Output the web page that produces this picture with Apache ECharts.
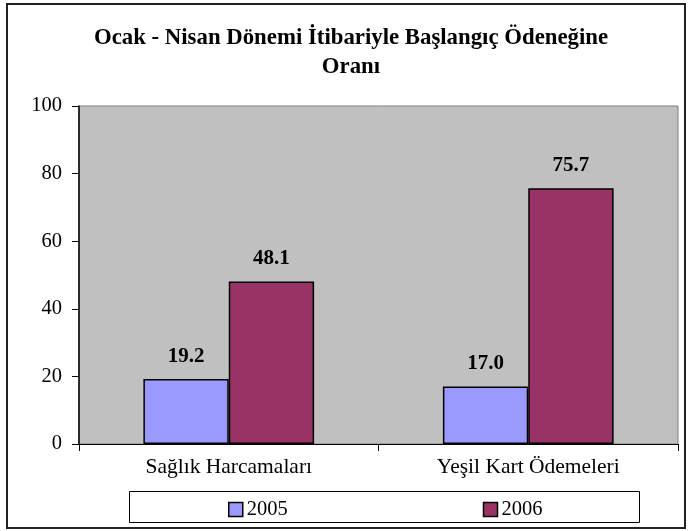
<!DOCTYPE html>
<html>
<head>
<meta charset="utf-8">
<script src="https://cdn.jsdelivr.net/npm/echarts@6/dist/echarts.min.js"></script>
<style>html,body{margin:0;padding:0;background:#fff}#c{width:689px;height:531px}</style>
</head>
<body>
<div id="c"></div>
<script>
const titleText = 'Ocak - Nisan Dönemi İtibariyle Başlangıç Ödeneğine\nOranı';
const categories = ['Sağlık Harcamaları', 'Yeşil Kart Ödemeleri'];
const seriesNames = ['2005', '2006'];
const values2005 = [19.2, 17.0];
const values2006 = [48.1, 75.7];
const yTicks = [0, 20, 40, 60, 80, 100];

const FONT = '"Liberation Serif", "Times New Roman", serif';
const chart = echarts.init(document.getElementById('c'));
const labelCfg = {
  show: true, position: 'top', distance: 12,
  fontFamily: FONT, fontSize: 21, fontWeight: 'bold', color: '#000',
  formatter: p => p.value.toFixed(1)
};
chart.setOption({
  animation: false,
  backgroundColor: '#fff',
  title: {
    text: titleText, left: 351, textAlign: 'center', top: 24, padding: 0,
    textStyle: { fontFamily: FONT, fontSize: 22.8, fontWeight: 'bold', color: '#000', lineHeight: 29 }
  },
  graphic: [
    { type: 'rect', shape: { x: 7, y: 4, width: 678, height: 524 }, style: { fill: 'none', stroke: '#222', lineWidth: 2 }, silent: true, z: -10 },
    { type: 'rect', shape: { x: 129.5, y: 491.5, width: 510, height: 31 }, style: { fill: '#fff', stroke: '#000', lineWidth: 1 }, silent: true, z: -5 }
  ],
  legend: {
    data: seriesNames, left: 228, top: 499, padding: 0,
    itemWidth: 14, itemHeight: 14, itemGap: 195,
    icon: 'rect',
    textStyle: { fontFamily: FONT, fontSize: 20.5, color: '#000', padding: [0, 0, 0, -1] },
    itemStyle: { borderColor: '#000', borderWidth: 1.5 }
  },
  grid: {
    left: 79, right: 11, top: 106, bottom: 87,
    show: true, backgroundColor: '#C0C0C0', borderColor: '#808080', borderWidth: 1
  },
  xAxis: {
    type: 'category', data: categories,
    axisLine: { lineStyle: { color: '#000', width: 1 } },
    axisTick: { show: true, length: 7, lineStyle: { color: '#000' } },
    axisLabel: { fontFamily: FONT, fontSize: 21.5, color: '#000', margin: 12 }
  },
  yAxis: {
    type: 'value', min: yTicks[0], max: yTicks[yTicks.length - 1], interval: yTicks[1] - yTicks[0],
    axisLine: { show: true, lineStyle: { color: '#000', width: 1.5 } },
    axisTick: { show: true, length: 7, lineStyle: { color: '#000' } },
    splitLine: { show: false },
    axisLabel: { fontFamily: FONT, fontSize: 20.5, color: '#000', margin: 17 }
  },
  series: [
    { name: seriesNames[0], type: 'bar', data: values2005, barGap: '0%', barCategoryGap: '43%',
      itemStyle: { color: '#9999FF', borderColor: '#000', borderWidth: 1.5 }, label: labelCfg },
    { name: seriesNames[1], type: 'bar', data: values2006,
      itemStyle: { color: '#993366', borderColor: '#000', borderWidth: 1.5 }, label: labelCfg }
  ]
});
</script>
</body>
</html>
